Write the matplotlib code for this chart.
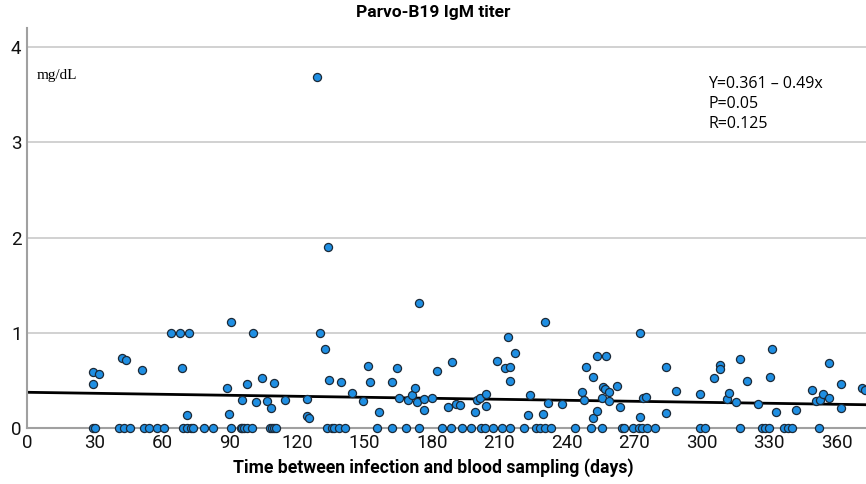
import matplotlib
matplotlib.use("Agg")
import matplotlib.pyplot as plt

# Samples with a measurable titer (days, mg/dL)
days = [29.2, 32.1, 29.2, 42.1, 44.1, 51.1, 64, 68, 72, 68.9, 71, 88.9, 90.7, 89.8,
        95.7, 97.9, 100.6, 101.6, 104.6, 106.7, 108.6, 109.6, 114.8, 124.6, 124.6,
        125.5, 128.9, 130.4, 132.4, 133.8, 134.4, 139.6, 144.4, 149.3, 151.4, 152.3,
        156.4, 162.2, 164.3, 165.3, 169.2, 171.2, 172.3, 173.2, 174.2, 176.3, 176.3,
        180.1, 182.1, 187.1, 189, 190.8, 192.3, 199, 200, 201.3, 204, 204, 208.9,
        212.6, 214.8, 213.9, 214.8, 216.9, 222.7, 223.7, 229.6, 230.5, 231.7, 237.8,
        246.8, 247.6, 248.6, 251.6, 253.6, 257.6, 251.6, 253.6, 255.6, 256.1, 256.8,
        258.7, 258.7, 262.5, 263.6, 272.4, 272.4, 273.9, 275.4, 284.3, 284.3, 288.4,
        299.3, 305.3, 308, 308, 311.1, 312.1, 315.3, 317, 320, 325, 330.1, 331.1,
        333, 341.9, 348.9, 350.7, 352.6, 353.8, 356.7, 356.7, 361.8, 361.8, 371.4,
        372.6]
titer = [0.59, 0.57, 0.46, 0.74, 0.71, 0.61, 1.0, 1.0, 1.0, 0.63, 0.14, 0.42, 1.11, 0.15,
         0.29, 0.46, 1.0, 0.27, 0.53, 0.28, 0.21, 0.47, 0.29, 0.30, 0.13,
         0.11, 3.69, 1.0, 0.83, 1.9, 0.50, 0.48, 0.37, 0.28, 0.65, 0.48,
         0.17, 0.48, 0.63, 0.31, 0.29, 0.35, 0.42, 0.27, 1.31, 0.30, 0.19,
         0.31, 0.60, 0.22, 0.69, 0.25, 0.24, 0.17, 0.29, 0.31, 0.36, 0.23, 0.70,
         0.63, 0.64, 0.96, 0.49, 0.79, 0.14, 0.35, 0.15, 1.11, 0.26, 0.25,
         0.38, 0.29, 0.64, 0.54, 0.76, 0.76, 0.11, 0.18, 0.32, 0.43, 0.41,
         0.38, 0.28, 0.44, 0.22, 1.0, 0.12, 0.32, 0.33, 0.64, 0.16, 0.39,
         0.36, 0.53, 0.66, 0.62, 0.30, 0.37, 0.27, 0.72, 0.49, 0.25, 0.54, 0.83,
         0.17, 0.19, 0.40, 0.28, 0.29, 0.36, 0.68, 0.31, 0.46, 0.21, 0.42,
         0.40]

# Samples with a titer of zero
zero_days = [29.2, 30.4, 40.7, 43.2, 45.9, 52.1, 54.1, 57.8, 60.9, 69.5, 71, 73, 73.9,
             78.8, 82.8, 90.7, 95, 95.7, 96.6, 97.6, 99.9, 108, 108.8, 109.6, 110.7,
             133.3, 135.7, 136.6, 138.7, 141.5, 155.4, 162.2, 168.3, 174.2, 184.3,
             188.3, 193.2, 197.2, 201.8, 203.7, 207, 211.1, 214.8, 220.9, 226.5,
             227.9, 230.1, 232.8, 243.6, 250.7, 255.6, 264.4, 265.6, 269.5, 272.1,
             273.3, 275.6, 279.4, 299.1, 301.3, 317.1, 326.8, 328.3, 329.9, 336.6,
             338.1, 340.1, 352]

# fitted line as drawn on the chart
fit_intercept = 0.375
fit_slope = -0.00035

x_ticks = [0, 30, 60, 90, 120, 150, 180, 210, 240, 270, 300, 330, 360]
y_ticks = [0, 1, 2, 3, 4]

sans = ["Roboto", "DejaVu Sans"]

fig = plt.figure(figsize=(8.66, 4.84), dpi=100)
ax = fig.add_axes([0.0312, 0.1157, 0.9688, 0.8263])
ax.set_xlim(0, 373)
ax.set_ylim(0, 4.2)

# grid
for yv in y_ticks[1:]:
    ax.axhline(yv, color="#c9c9c9", lw=1.2, zorder=0)

# regression line
xs = [0, 373]
ax.plot(xs, [fit_intercept + fit_slope * v for v in xs], color="black", lw=2, zorder=2)

# points
all_x = days + zero_days
all_y = titer + [0] * len(zero_days)
ax.scatter(all_x, all_y, s=34, c="#1f8fe3", edgecolors="#1c2a38",
           linewidths=0.9, zorder=3, clip_on=False)

# axes styling
for side in ["top", "right"]:
    ax.spines[side].set_visible(False)
for side in ["left", "bottom"]:
    ax.spines[side].set_color("#a0a0a0")
    ax.spines[side].set_linewidth(1.5)
ax.set_xticks(x_ticks)
ax.set_yticks(y_ticks)
ax.tick_params(length=0, pad=4)
for lab in ax.get_xticklabels() + ax.get_yticklabels():
    lab.set_family(sans)
    lab.set_fontsize(13.5)
    lab.set_color("#111111")

# texts
fig.text(0.5, 0.975, "Parvo-B19 IgM titer", ha="center", va="center",
         family=sans, fontsize=12.5, fontweight="bold")
fig.text(0.5, 0.033, "Time between infection and blood sampling (days)",
         ha="center", va="center", family=sans, fontsize=12.7, fontweight="bold")
ax.text(0.012, 0.8825, "mg/dL", transform=ax.transAxes, family="Liberation Serif",
        fontsize=11, va="center")
ax.text(0.812, 0.81, "Y=0.361 \u2013 0.49x\nP=0.05\nR=0.125", transform=ax.transAxes,
        family="Open Sans", fontsize=11.5, va="center", linespacing=1.35)

fig.savefig("out.png", dpi=100)
